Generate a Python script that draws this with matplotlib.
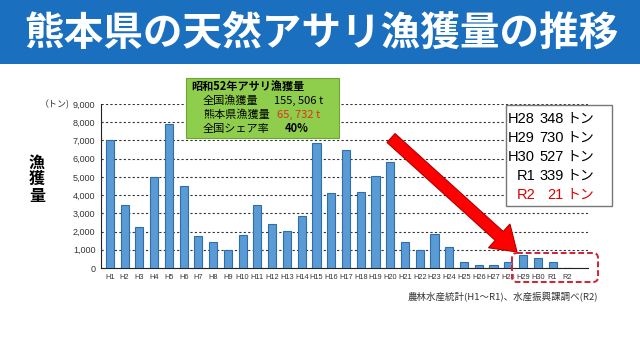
import matplotlib
matplotlib.use("Agg")
import matplotlib.pyplot as plt
from matplotlib.patches import Rectangle, FancyBboxPatch, FancyArrow

plt.rcParams['font.family'] = ['Noto Sans CJK JP', 'DejaVu Sans']

# ---- data ----
years = ["H1", "H2", "H3", "H4", "H5", "H6", "H7", "H8", "H9", "H10",
         "H11", "H12", "H13", "H14", "H15", "H16", "H17", "H18", "H19", "H20",
         "H21", "H22", "H23", "H24", "H25", "H26", "H27", "H28", "H29", "H30",
         "R1", "R2"]
catch_t = [7050, 3480, 2270, 4980, 7900, 4500, 1760, 1410, 970, 1830,
           3440, 2430, 2010, 2870, 6850, 4120, 6450, 4160, 5050, 5810,
           1410, 970, 1880, 1140, 350, 170, 170, 348, 730, 527,
           339, 21]
yticks = [0, 1000, 2000, 3000, 4000, 5000, 6000, 7000, 8000, 9000]

recent_labels = ["H28", "H29", "H30", "R1", "R2"]
recent_values = ["348", "730", "527", "339", "21"]

W, H = 640, 359
fig = plt.figure(figsize=(W / 100, H / 100), dpi=100)
fig.patch.set_facecolor("white")

latin = ['Liberation Sans', 'Noto Sans CJK JP']

# ---- main chart ----
left, right, top, bottom = 101, 588, 104, 268
ax = fig.add_axes([left / W, (H - bottom) / H, (right - left) / W, (bottom - top) / H])
x = list(range(len(years)))
ax.bar(x, catch_t, width=0.55, color="#5b9bd5", edgecolor="#2f6ea8", linewidth=0.8, zorder=3)
ax.set_xlim(-0.6, len(years) + 0.4)
ax.set_ylim(0, 9000)
ax.set_yticks(yticks)
ax.set_yticklabels([f"{v:,}" for v in yticks], fontsize=6.5, color="#333333", family=latin)
ax.set_xticks(x)
ax.set_xticklabels(years, fontsize=5.3, color="#333333", family=latin)
ax.tick_params(axis='both', length=0, pad=4)
for s in ["top", "right"]:
    ax.spines[s].set_visible(False)
ax.spines["left"].set_color("#222222")
ax.spines["bottom"].set_color("#222222")
ax.yaxis.grid(True, linestyle=(0, (2, 2)), color="#333333", linewidth=0.8, zorder=0)
ax.set_axisbelow(True)

# ---- overlay in pixel coordinates ----
ov = fig.add_axes([0, 0, 1, 1], zorder=10)
ov.set_xlim(0, W)
ov.set_ylim(H, 0)
ov.axis("off")
ov.patch.set_alpha(0)

# title banner
ov.add_patch(Rectangle((0, 0), W, 64, facecolor="#1b6fbf", edgecolor="none"))
ov.text(322, 33, "熊本県の天然アサリ漁獲量の推移", color="white", fontsize=28.5,
        fontweight="bold", ha="center", va="center")

# y-axis labels
ov.text(37, 179, "漁\n獲\n量", fontsize=11.5, fontweight="bold", ha="center", va="center",
        linespacing=1.05)
ov.text(70, 104, "（トン)", fontsize=6.5, ha="right", va="center", color="#333333")

# green info box
ov.add_patch(Rectangle((186, 78), 153, 60, facecolor="#8fcd4c", edgecolor="#6fa534", linewidth=0.8))
ov.text(191, 86, "昭和52年アサリ漁獲量", fontsize=8, fontweight="bold", ha="left", va="center")
ov.text(203, 101, "全国漁獲量", fontsize=8, ha="left", va="center")
ov.text(274, 101, "155, 506 t", fontsize=8, ha="left", va="center")
ov.text(203, 115, "熊本県漁獲量", fontsize=8, ha="left", va="center")
ov.text(277, 115, "65, 732 t", fontsize=8, ha="left", va="center", color="#e0301a")
ov.text(203, 129, "全国シェア率", fontsize=8, ha="left", va="center")
ov.text(285, 129, "40%", fontsize=8, fontweight="bold", ha="left", va="center")

# red arrow
ov.add_patch(FancyArrow(391, 138, 126, 114, width=12, head_width=32, head_length=24,
                        length_includes_head=True, facecolor="#ff0000",
                        edgecolor="#b00000", linewidth=0.8))

# recent values box
ov.add_patch(Rectangle((506, 105), 106, 101, facecolor="white", edgecolor="#777777", linewidth=1.0))
for i, (lab, val) in enumerate(zip(recent_labels, recent_values)):
    yy = 119 + i * 19
    c = "#e00000" if lab == "R2" else "black"
    ov.text(535, yy, lab, fontsize=10.5, ha="right", va="center", color=c, family=latin)
    ov.text(564, yy, val, fontsize=10.5, ha="right", va="center", color=c, family=latin)
    ov.text(566, yy, "トン", fontsize=10, ha="left", va="center", color=c)

# dashed highlight around last bars
ov.add_patch(FancyBboxPatch((512, 253), 86, 29, boxstyle="round,pad=0,rounding_size=5",
                            facecolor="none", edgecolor="#d42030", linewidth=1.4,
                            linestyle=(0, (3, 1.5))))

# source note
ov.text(598, 297, "農林水産統計(H1～R1)、水産振興課調べ(R2)", fontsize=6.8,
        ha="right", va="center", color="#333333")

fig.savefig("out.png", dpi=100)
